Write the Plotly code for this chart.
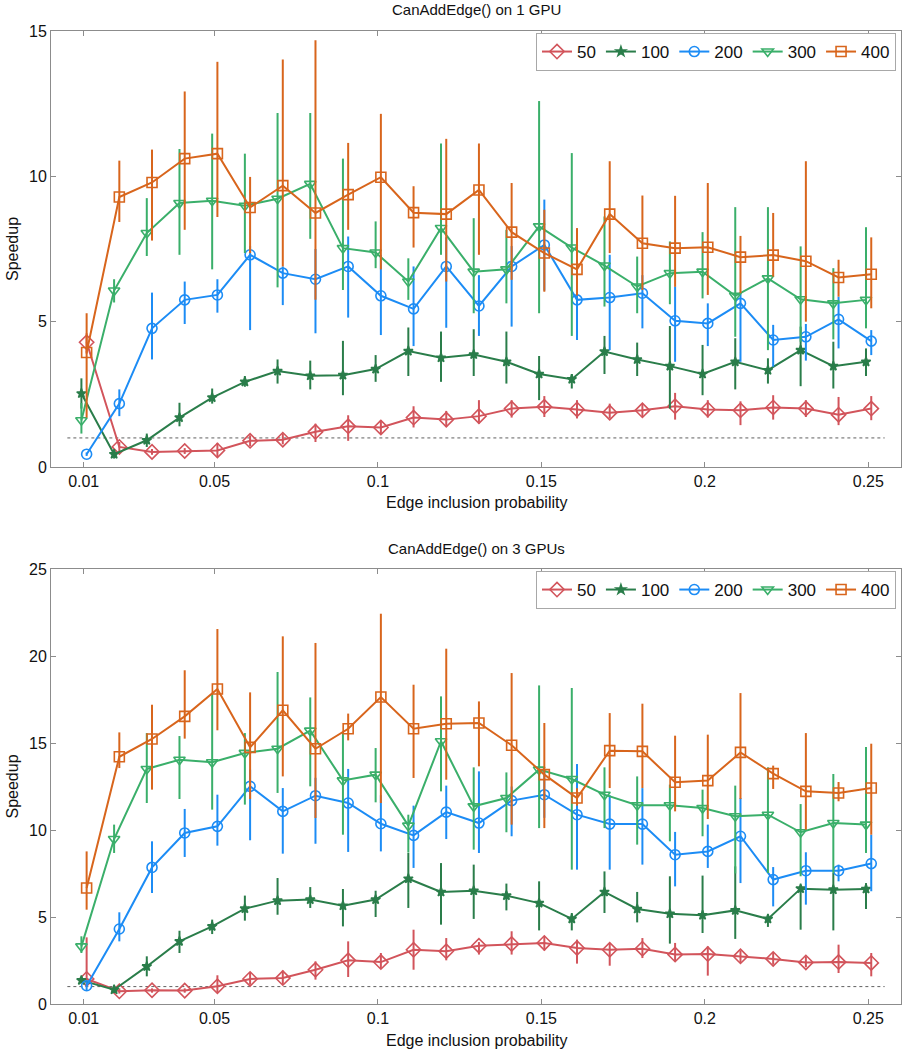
import plotly.graph_objects as go

# ---------------- data ----------------
X = [0.01, 0.02, 0.03, 0.04, 0.05, 0.06, 0.07, 0.08, 0.09, 0.10, 0.11, 0.12, 0.13,
     0.14, 0.15, 0.16, 0.17, 0.18, 0.19, 0.20, 0.21, 0.22, 0.23, 0.24, 0.25]
SERIES = ["50", "100", "200", "300", "400"]
X_TICKS = [0.01, 0.05, 0.1, 0.15, 0.2, 0.25]
X_TICK_TEXT = ["0.01", "0.05", "0.1", "0.15", "0.2", "0.25"]
BASELINE_Y = 1.0
BASELINE_X = [0.005, 0.255]

# 1 GPU
y50_1 = [4.29,0.69,0.52,0.55,0.57,0.90,0.94,1.21,1.40,1.36,1.70,1.63,1.75,2.01,2.07,1.98,1.87,1.95,2.09,1.98,1.95,2.05,2.01,1.80,2.01]
hi50_1 = [4.6,0.86,0.62,0.65,0.83,1.09,1.15,1.49,1.78,1.61,2.09,1.93,2.30,2.30,2.44,2.30,2.18,2.18,2.55,2.30,2.26,2.47,2.30,2.41,2.44]
lo50_1 = [3.9,0.52,0.42,0.45,0.34,0.71,0.78,0.86,0.90,1.13,1.36,1.38,1.49,1.70,1.72,1.67,1.67,1.72,1.63,1.70,1.44,1.63,1.72,1.44,1.61]

y100_1 = [2.53,0.44,0.92,1.70,2.39,2.93,3.30,3.14,3.16,3.37,3.99,3.76,3.87,3.62,3.20,3.02,3.97,3.70,3.47,3.20,3.62,3.33,4.02,3.47,3.62]
hi100_1 = [3.05,0.57,1.15,2.21,2.70,3.13,3.70,3.66,4.34,3.85,4.80,4.66,4.74,4.66,3.82,3.20,4.51,4.28,4.85,4.20,4.43,3.74,4.83,4.31,4.08]
lo100_1 = [2.01,0.29,0.69,1.40,2.18,2.76,2.87,2.67,2.47,2.93,3.13,2.93,3.13,2.87,2.30,2.70,3.20,3.13,2.01,2.47,2.67,2.87,2.78,2.70,3.13]

y200_1 = [0.44,2.18,4.77,5.75,5.92,7.30,6.67,6.46,6.90,5.89,5.44,6.90,5.54,6.90,7.64,5.75,5.83,5.98,5.03,4.94,5.63,4.37,4.48,5.08,4.33]
hi200_1 = [0.5,2.67,6.00,6.38,6.46,7.6,6.9,7.5,7.93,7.3,6.90,7.9,6.6,7.6,9.20,6.0,7.30,6.6,6.21,5.63,6.0,4.89,4.92,5.86,4.71]
lo200_1 = [0.38,1.75,3.70,4.92,5.31,4.71,5.57,4.60,5.14,4.54,4.16,4.79,4.51,4.83,6.07,4.37,4.02,4.77,3.62,4.16,3.62,3.45,3.66,4.08,3.85]

y300_1 = [1.61,6.07,8.05,9.08,9.16,8.99,9.23,9.74,7.53,7.38,6.38,8.22,6.72,6.80,8.28,7.55,6.93,6.21,6.67,6.72,5.89,6.49,5.77,5.63,5.75]
hi300_1 = [2.2,6.46,9.25,10.94,11.47,10.78,12.18,12.18,10.61,8.45,7.18,11.13,8.56,8.16,12.59,10.80,8.62,7.24,7.76,8.08,8.94,8.94,7.59,6.84,8.25]
lo300_1 = [1.15,5.66,7.26,7.30,6.80,7.36,6.18,7.85,6.09,6.84,5.75,7.3,5.29,5.63,5.29,4.51,5.52,5.29,5.60,5.80,4.48,4.02,4.31,4.39,4.77]

y400_1 = [3.94,9.29,9.79,10.61,10.78,8.93,9.68,8.74,9.37,9.97,8.75,8.70,9.53,8.08,7.36,6.80,8.70,7.70,7.53,7.56,7.22,7.29,7.08,6.52,6.63]
hi400_1 = [5.29,10.54,10.92,12.92,13.94,9.98,14.02,14.68,11.15,12.15,9.66,11.29,11.13,9.77,8.85,8.22,10.52,9.34,9.33,9.77,7.95,8.74,10.52,7.13,7.90]
lo400_1 = [1.7,8.43,7.79,8.16,8.60,7.36,6.9,5.75,8.16,6.80,7.55,6.38,7.30,6.44,6.03,5.9,7.36,6.09,6.2,5.92,5.98,6.55,5.0,5.86,5.46]

# 3 GPUs
y50_3 = [1.44,0.73,0.79,0.77,1.02,1.44,1.49,1.97,2.51,2.41,3.12,3.03,3.35,3.45,3.51,3.22,3.12,3.18,2.84,2.87,2.74,2.59,2.39,2.41,2.36]
hi50_3 = [3.83,0.9,0.9,0.9,1.65,1.82,1.92,2.45,3.60,2.93,4.27,3.79,3.56,4.18,3.89,3.70,3.51,3.79,3.51,3.31,3.08,2.99,2.74,3.41,2.93]
lo50_3 = [1.02,0.6,0.65,0.65,0.67,1.11,1.15,1.40,1.55,2.03,1.97,2.51,2.84,2.84,3.08,2.32,2.20,2.64,2.45,1.63,2.36,2.26,2.11,1.78,1.59]

y100_3 = [1.36,0.82,2.16,3.60,4.46,5.48,5.94,6.00,5.65,6.00,7.20,6.44,6.51,6.23,5.80,4.89,6.44,5.46,5.19,5.10,5.38,4.89,6.63,6.57,6.61]
hi100_3 = [1.5,0.95,2.74,4.21,4.85,6.23,7.24,6.72,6.61,6.51,8.68,8.10,8.01,6.92,7.05,5.23,7.62,6.44,7.34,7.38,7.91,5.13,6.76,7.53,6.95]
lo100_3 = [1.2,0.7,1.59,2.93,4.02,4.79,5.13,5.52,4.46,5.0,5.52,4.56,4.89,5.38,4.23,4.23,5.23,4.69,3.47,4.08,3.74,4.43,4.27,4.23,5.46]

y200_3 = [1.05,4.31,7.85,9.83,10.21,12.51,11.07,11.97,11.55,10.36,9.69,11.03,10.40,11.69,12.03,10.88,10.34,10.34,8.58,8.77,9.64,7.15,7.66,7.66,8.07]
hi200_3 = [1.3,5.27,9.35,11.21,12.03,13.47,12.41,13.0,13.51,12.0,11.40,12.55,13.37,12.5,13.5,13.79,12.0,12.41,9.89,10.31,11.84,7.87,8.72,8.01,9.73]
lo200_3 = [0.8,3.60,6.38,8.45,9.10,9.41,8.64,9.21,8.74,8.77,7.82,9.48,8.68,9.64,10.7,7.72,7.72,8.01,6.76,7.82,6.95,5.61,5.71,7.05,6.48]

y300_3 = [3.31,9.48,13.51,14.04,13.89,14.43,14.67,15.71,12.85,13.18,10.25,15.10,11.36,11.84,13.47,12.93,12.03,11.42,11.42,11.26,10.79,10.88,9.87,10.40,10.31]
hi300_3 = [3.89,10.31,15.57,15.4,17.87,15.57,19.08,17.62,15.61,14.71,10.88,17.68,13.60,13.31,18.31,18.16,13.60,13.08,12.61,12.32,12.55,13.60,11.49,13.22,14.77]
lo300_3 = [2.93,8.68,11.55,11.78,11.17,11.46,12.13,12.51,9.73,11.59,8.7,12.22,8.87,9.87,10.11,7.72,10.11,9.16,9.35,9.64,7.5,7.53,7.34,7.53,8.68]

y400_3 = [6.67,14.21,15.23,16.53,18.10,14.75,16.88,14.67,15.82,17.64,15.82,16.11,16.15,14.87,13.18,11.84,14.56,14.52,12.74,12.84,14.46,13.24,12.22,12.13,12.41]
hi400_3 = [8.77,15.61,17.20,19.18,21.55,17.91,21.13,20.75,16.69,22.43,18.35,20.42,17.39,19.02,16.15,12.4,16.72,17.26,15.42,15.48,17.87,13.70,15.57,12.76,14.96]
lo400_3 = [5.42,13.56,12.32,15.25,15.73,11.78,13.08,10.69,15.15,11.55,12.99,12.89,13.66,10.31,10.11,11.4,12.41,12.41,11.07,10.63,11.78,12.36,10.02,11.65,9.73]

PANELS = [
    ("CanAddEdge() on 1 GPU", [(y50_1, hi50_1, lo50_1), (y100_1, hi100_1, lo100_1),
                               (y200_1, hi200_1, lo200_1), (y300_1, hi300_1, lo300_1),
                               (y400_1, hi400_1, lo400_1)], 15),
    ("CanAddEdge() on 3 GPUs", [(y50_3, hi50_3, lo50_3), (y100_3, hi100_3, lo100_3),
                                (y200_3, hi200_3, lo200_3), (y300_3, hi300_3, lo300_3),
                                (y400_3, hi400_3, lo400_3)], 25),
]

# ---------------- style ----------------
COLORS = ["#d2545b", "#2a7d4a", "#1c8cf5", "#3aaf6a", "#d8651c"]
SYMBOLS = ["diamond-open", "star", "circle-open", "triangle-down-open", "square-open"]
MSIZE = [11, 7, 10, 10, 10]
XOFF = [0.0009, -0.0007, 0.0009, -0.0007, 0.0009]
FONT = "Liberation Sans, Arial, sans-serif"
AX_COLOR = "#8c8c8c"

W, H = 904, 1050
ML, MR, MT, MB = 51, 3, 31, 46
plot_h = H - MT - MB
plot_w = W - ML - MR
panel_px = [(31, 467), (569, 1004)]        # pixel rows (top, bottom) of panels

def py(p):
    return (H - MB - p) / plot_h

def px(p):
    return (p - ML) / plot_w

fig = go.Figure()
for pi, (title, series, ymax) in enumerate(PANELS):
    xa = "x" if pi == 0 else "x2"
    ya = "y" if pi == 0 else "y2"
    lg = "legend" if pi == 0 else "legend2"
    fig.add_trace(go.Scatter(x=BASELINE_X, y=[BASELINE_Y, BASELINE_Y], mode="lines",
                             line=dict(color="#606060", width=1, dash="dot"),
                             showlegend=False, hoverinfo="skip", xaxis=xa, yaxis=ya))
    for si, (yv, hi, lo) in enumerate(series):
        xs = [v + XOFF[si] for v in X]
        fig.add_trace(go.Scatter(
            x=xs, y=yv, mode="lines+markers", name=SERIES[si],
            line=dict(color=COLORS[si], width=2),
            marker=dict(symbol=SYMBOLS[si], size=MSIZE[si], color=COLORS[si],
                        line=dict(color=COLORS[si], width=1.6)),
            error_y=dict(type="data", symmetric=False,
                         array=[h - v for h, v in zip(hi, yv)],
                         arrayminus=[v - l for v, l in zip(yv, lo)],
                         color=COLORS[si], thickness=2, width=0),
            xaxis=xa, yaxis=ya, legend=lg))

axis_common = dict(showline=True, linecolor=AX_COLOR, linewidth=1, mirror="ticks",
                   ticks="inside", ticklen=5, tickcolor=AX_COLOR, showgrid=False,
                   zeroline=False, automargin=False,
                   tickfont=dict(family=FONT, size=16, color="#111"))

layout = dict(width=W, height=H, margin=dict(l=ML, r=MR, t=MT, b=MB, autoexpand=False),
              paper_bgcolor="white", plot_bgcolor="white",
              font=dict(family=FONT, color="#111"))
for pi, (title, series, ymax) in enumerate(PANELS):
    sfx = "" if pi == 0 else "2"
    t, b = panel_px[pi]
    layout["xaxis" + sfx] = dict(axis_common, domain=[0, 1], range=[0, 0.26],
                                 tickvals=X_TICKS, ticktext=X_TICK_TEXT,
                                 anchor="y" + sfx)
    layout["yaxis" + sfx] = dict(axis_common, domain=[py(b), py(t)], range=[0, ymax],
                                 dtick=5, anchor="x" + sfx)
    layout["legend" + sfx] = dict(
        orientation="h", x=px(896), xanchor="right", y=py(t + 2), yanchor="top",
        bgcolor="white", bordercolor="#a8a8a8", borderwidth=1,
        font=dict(family=FONT, size=17, color="#111"), itemwidth=30,
        tracegroupgap=0)

fig.update_layout(**layout)

annos = []
for pi, (title, series, ymax) in enumerate(PANELS):
    t, b = panel_px[pi]
    annos.append(dict(text=title, x=0.5, xref="paper", y=py(t - 21), yref="paper",
                      xanchor="center", yanchor="middle", showarrow=False,
                      font=dict(family=FONT, size=15, color="#111")))
    annos.append(dict(text="Edge inclusion probability", x=0.5, xref="paper",
                      y=py(b + 36), yref="paper", xanchor="center", yanchor="middle",
                      showarrow=False, font=dict(family=FONT, size=16, color="#111")))
    annos.append(dict(text="Speedup", x=px(12), xref="paper", y=py((t + b) / 2),
                      yref="paper", xanchor="center", yanchor="middle", textangle=-90,
                      showarrow=False, font=dict(family=FONT, size=16, color="#111")))
fig.update_layout(annotations=annos)

# remove the default 8px page margin so the figure sits at the window origin
fig.write_html("out.html", config={"displayModeBar": False},
               post_script="document.body.style.margin='0';")
